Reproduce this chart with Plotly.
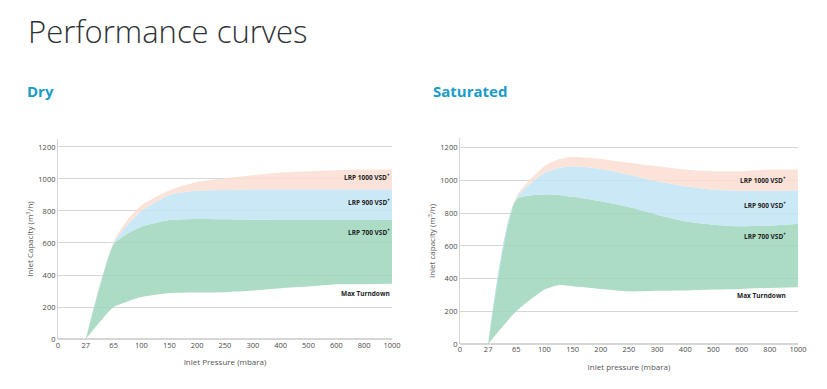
import plotly.graph_objects as go

# ---- data ----
tick_labels = ["0", "27", "65", "100", "150", "200", "250", "300", "400", "500", "600", "800", "1000"]
y_ticks = [0, 200, 400, 600, 800, 1000, 1200]

# x positions are indices into tick_labels (the chart's pressure axis is evenly spaced by label)
dry_x = [1, 2, 2.5, 3, 4, 5, 6, 7, 8, 9, 10, 11, 12]
dry_turndown = [0, 200, 235, 262, 287, 291, 293, 303, 318, 328, 342, 343, 345]
dry_lrp700 = [0, 592, 660, 702, 743, 750, 748, 745, 744, 744, 744, 744, 745]
dry_lrp900 = [0, 600, 715, 800, 900, 926, 931, 934, 935, 935, 935, 935, 935]
dry_lrp1000 = [0, 610, 745, 836, 930, 982, 1005, 1023, 1040, 1048, 1055, 1059, 1061]

sat_x = [1, 2, 3, 3.5, 4, 5, 6, 7, 8, 9, 10, 11, 12]
sat_turndown = [0, 200, 333, 360, 353, 337, 322, 326, 328, 333, 337, 343, 347]
sat_lrp700 = [0, 883, 914, 912, 900, 873, 838, 791, 751, 730, 720, 724, 736]
sat_lrp900 = [0, 890, 1047, 1075, 1087, 1071, 1036, 995, 965, 944, 938, 938, 940]
sat_lrp1000 = [0, 900, 1087, 1130, 1144, 1132, 1108, 1087, 1067, 1057, 1057, 1067, 1067]

band_labels = ["LRP 1000 VSD<sup>+</sup>", "LRP 900 VSD<sup>+</sup>", "LRP 700 VSD<sup>+</sup>", "Max Turndown"]
dry_label_y = [1012, 856, 669, 287]
sat_label_y = [1004, 851, 661, 294]

GREEN = "rgba(157,214,188,0.85)"
BLUE = "rgba(194,228,244,0.85)"
PINK = "rgba(252,222,211,0.85)"

fig = go.Figure()


def add_bands(x, bottom, g, b, p, xa, ya):
    common = dict(mode="lines", line=dict(width=0, shape="spline", smoothing=0.6),
                  xaxis=xa, yaxis=ya, showlegend=False, hoverinfo="skip")
    fig.add_trace(go.Scatter(x=x, y=bottom, **common))
    fig.add_trace(go.Scatter(x=x, y=g, fill="tonexty", fillcolor=GREEN, **common))
    fig.add_trace(go.Scatter(x=x, y=b, fill="tonexty", fillcolor=BLUE, **common))
    fig.add_trace(go.Scatter(x=x, y=p, fill="tonexty", fillcolor=PINK, **common))


add_bands(dry_x, dry_turndown, dry_lrp700, dry_lrp900, dry_lrp1000, "x", "y")
add_bands(sat_x, sat_turndown, sat_lrp700, sat_lrp900, sat_lrp1000, "x2", "y2")

FONT = "Open Sans"
tick_font = dict(family=FONT, size=7.5, color="#4a4a4a")
title_font = dict(family=FONT, size=8, color="#555")

xcommon = dict(tickmode="array", tickvals=list(range(len(tick_labels))), ticktext=tick_labels,
               range=[0, 12], showgrid=False, zeroline=False, showline=False,
               tickfont=tick_font, ticks="", fixedrange=True, automargin=False)
ycommon = dict(tickmode="array", tickvals=y_ticks, showgrid=True, gridcolor="#d6d6d6", gridwidth=1,
               zeroline=True, zerolinecolor="#d6d6d6", showline=True, linecolor="#d6d6d6",
               tickfont=tick_font, ticks="", fixedrange=True, automargin=False)

fig.update_layout(
    width=827, height=389,
    margin=dict(l=0, r=0, t=0, b=0, autoexpand=False),
    paper_bgcolor="white", plot_bgcolor="white",
    font=dict(family=FONT),
    xaxis=dict(domain=[0.0701, 0.474], anchor="y",
               title=dict(text="Inlet Pressure (mbara)", font=title_font, standoff=10), **xcommon),
    yaxis=dict(domain=[0.1285, 0.6427], anchor="x", range=[0, 1250],
               title=dict(text="Inlet Capacity (m<sup>3</sup>/h)", font=title_font, standoff=3), **ycommon),
    xaxis2=dict(domain=[0.5562, 0.9649], anchor="y2",
                title=dict(text="Inlet pressure (mbara)", font=title_font, standoff=10), **xcommon),
    yaxis2=dict(domain=[0.1157, 0.6452], anchor="x2", range=[0, 1260],
                title=dict(text="Inlet capacity (m<sup>3</sup>/h)", font=title_font, standoff=3), **ycommon),
)

annotations = [
    dict(text="Performance curves", x=26 / 827, y=1 - 8 / 389, xref="paper", yref="paper",
         xanchor="left", yanchor="top", showarrow=False,
         font=dict(family=FONT, size=31, color="#2e3236", weight=300)),
    dict(text="<b>Dry</b>", x=25 / 827, y=1 - 79 / 389, xref="paper", yref="paper",
         xanchor="left", yanchor="top", showarrow=False,
         font=dict(family=FONT, size=15, color="#1a9bc8")),
    dict(text="<b>Saturated</b>", x=431 / 827, y=1 - 79 / 389, xref="paper", yref="paper",
         xanchor="left", yanchor="top", showarrow=False,
         font=dict(family=FONT, size=15, color="#1a9bc8")),
]
for lab, yv in zip(band_labels, dry_label_y):
    annotations.append(dict(text="<b>" + lab + "</b>", x=12, y=yv, xref="x", yref="y",
                            xanchor="right", yanchor="middle", showarrow=False,
                            font=dict(family=FONT, size=6.5, color="#222")))
for lab, yv in zip(band_labels, sat_label_y):
    annotations.append(dict(text="<b>" + lab + "</b>", x=11.65, y=yv, xref="x2", yref="y2",
                            xanchor="right", yanchor="middle", showarrow=False,
                            font=dict(family=FONT, size=6.5, color="#222")))
fig.update_layout(annotations=annotations)

fig.write_html("out.html", config={"displayModeBar": False},
               post_script="document.body.style.margin='0';")
